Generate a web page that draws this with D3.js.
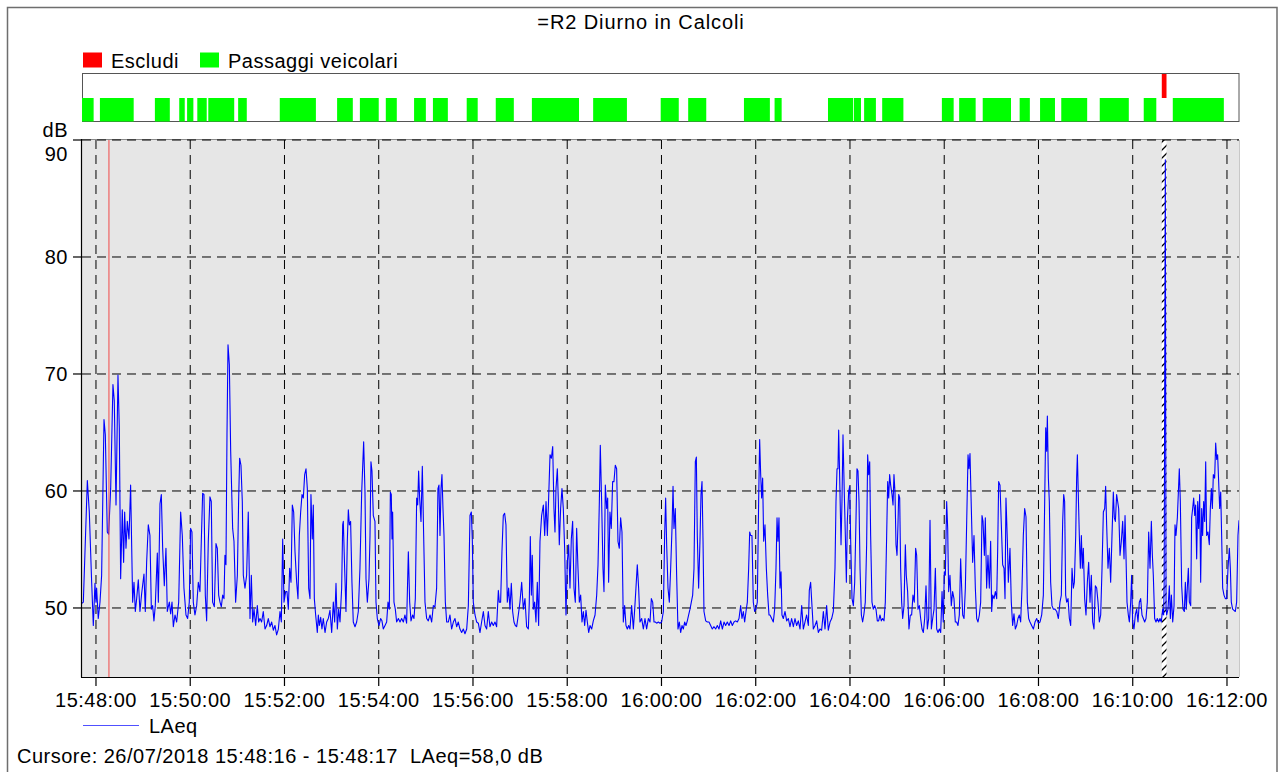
<!DOCTYPE html>
<html><head><meta charset="utf-8">
<script src="https://cdn.jsdelivr.net/npm/d3@7"></script>
<style>
body{margin:0;background:#fff;}
svg{display:block;font-family:"Liberation Sans",Arial,sans-serif;}
text{font-size:20px;letter-spacing:0.5px;fill:#000;white-space:pre;}
</style>
</head><body>
<svg id="chart" width="1284" height="772"></svg>
<script>
// ---------------- DATA ----------------
const chartTitle = "=R2 Diurno in Calcoli";
const legendTop = ["Escludi", "Passaggi veicolari"];
const seriesName = "LAeq";
const cursorText = "Cursore: 26/07/2018 15:48:16 - 15:48:17  LAeq=58,0 dB";
const baseDate = [2018, 6, 26, 15, 48, 0];       // 26/07/2018 15:48:00 (seconds below are offsets from it)
const xDomainSecs = [-17.8, 1455.3];
const yDomain = [44.1, 90];
const yTicks = [50, 60, 70, 80, 90];
const yUnit = "dB";
const xTickEveryMinutes = 2;
const cursorSecs = 16.5;
// vehicle passages [start, end] seconds
const passaggi = [[-17.8,-3],[5,48],[75,94],[106,113],[116,124],[129,141],[143,176],[181,192],[234,280],[307,327],[336,360],[369,383],[405,420],[429,448],[472,486],[509,532],[555,615],[633,676],[719,742],[754,777],[825,858],[864,873],[932,964],[965,974],[978,993],[1001,1028],[1077,1092],[1099,1120],[1129,1165],[1176,1189],[1202,1221],[1229,1262],[1278,1315],[1334,1350],[1371,1436]];
// excluded interval
const escludi = [[1357,1363]];
// LAeq series [seconds, dB]
const laeq = [
[-17.8,50.4],[-16.1,50.5],[-11.0,60.9],[-8.5,58.2],[-5.5,52.2],[-3.4,48.5],[-1.3,52.1],[0.0,50.5],[0.8,51.7],[2.9,49.1],[5.1,50.5],[7.2,52.8],[10.2,66.1],[11.9,64.8],[14.4,56.5],[16.1,56.3],[18.7,60.2],[21.6,69.1],[23.3,67.7],[25.5,58.8],[28.0,69.9],[29.7,65.4],[31.4,52.5],[33.5,58.4],[35.2,53.9],[36.5,58.2],[38.2,55.1],[39.9,57.4],[42.0,55.9],[44.1,60.5],[46.7,50.5],[48.4,52.2],[50.1,49.7],[51.8,50.8],[53.9,52.4],[56.0,49.7],[58.1,51.2],[61.1,52.9],[62.8,49.7],[64.5,53.9],[66.6,57.1],[68.7,56.2],[70.5,49.9],[72.1,50.2],[73.8,48.9],[75.5,50.2],[78.1,54.7],[79.4,50.5],[81.5,58.9],[83.2,59.7],[84.9,55.1],[87.0,51.9],[89.1,55.1],[90.8,49.7],[93.4,50.5],[95.1,49.5],[96.8,50.5],[98.5,48.4],[100.6,49.4],[102.7,48.8],[105.3,50.5],[107.8,58.2],[109.9,56.2],[112.0,51.7],[114.6,49.4],[116.7,49.1],[118.8,50.5],[120.5,56.8],[122.2,56.5],[123.9,50.5],[126.0,49.4],[128.2,50.2],[130.3,52.2],[132.4,51.4],[134.1,55.7],[135.8,59.8],[137.5,59.7],[139.2,51.1],[140.9,48.9],[143.0,55.7],[145.1,59.5],[146.8,59.1],[148.5,50.5],[150.7,50.1],[152.8,55.5],[154.5,55.1],[156.2,51.1],[157.9,50.5],[159.6,50.1],[161.3,51.1],[163.0,50.8],[164.2,54.5],[165.5,53.7],[166.8,64.8],[168.1,72.5],[169.8,70.8],[171.5,63.4],[174.0,56.8],[175.7,55.7],[177.8,50.5],[180.0,52.8],[181.6,59.1],[182.9,62.8],[184.6,62.2],[186.3,59.1],[187.6,52.8],[189.7,51.7],[191.8,52.8],[193.9,58.2],[196.1,49.1],[197.8,52.8],[199.5,48.8],[201.2,49.9],[203.3,48.5],[205.4,50.2],[207.1,48.8],[208.8,49.1],[210.9,48.8],[213.0,49.7],[215.2,48.2],[217.3,48.5],[219.4,49.1],[221.5,48.4],[223.7,48.8],[225.8,48.1],[227.9,48.5],[230.0,47.7],[232.2,48.2],[234.3,49.7],[236.0,48.8],[237.7,55.9],[239.4,50.5],[241.5,51.4],[243.2,51.4],[244.9,49.9],[246.6,53.4],[248.3,52.2],[250.0,58.8],[251.7,58.2],[253.4,54.8],[255.5,52.2],[257.2,50.8],[258.9,56.2],[260.6,58.2],[262.3,59.7],[264.0,59.4],[265.7,61.4],[267.4,61.9],[269.1,60.2],[270.8,51.7],[272.5,50.8],
[273.7,59.7],[275.4,55.9],[276.7,58.8],[278.0,50.8],[279.7,49.4],[281.8,47.9],[283.1,49.4],[284.4,48.5],[286.1,49.2],[287.7,48.2],[289.4,49.1],[291.6,47.9],[293.7,48.8],[295.8,49.1],[297.9,49.8],[300.1,47.9],[302.2,50.5],[303.9,48.8],[305.6,52.1],[307.3,48.2],[309.0,49.9],[310.7,48.8],[312.8,51.7],[314.1,57.1],[314.9,57.4],[316.6,53.4],[318.3,49.7],[320.0,55.7],[321.3,58.4],[322.6,57.1],[324.2,57.4],[325.9,52.2],[327.6,48.8],[329.8,48.4],[331.9,48.8],[334.0,49.7],[336.1,53.4],[338.3,59.9],[340.8,64.2],[342.5,59.9],[343.8,52.5],[345.5,50.5],[347.6,52.5],[348.9,56.2],[350.1,62.5],[351.4,61.7],[353.1,57.9],[355.2,57.4],[356.5,50.5],[358.2,49.1],[360.3,48.5],[362.4,49.1],[364.1,48.9],[365.8,48.2],[368.0,48.5],[370.1,48.8],[371.8,50.5],[373.5,49.9],[374.8,59.9],[376.0,59.7],[376.9,55.9],[377.7,58.2],[379.4,50.5],[381.1,49.9],[382.8,48.8],[385.0,49.1],[387.1,48.8],[389.2,49.1],[391.3,48.8],[393.4,49.4],[395.5,48.7],[397.7,54.8],[399.4,50.5],[401.1,48.9],[403.2,49.4],[404.9,49.1],[406.6,50.8],[408.3,59.4],[409.6,58.8],[410.8,61.7],[412.1,59.4],[413.8,57.4],[415.5,62.1],[417.2,56.2],[418.9,50.5],[421.0,49.1],[423.1,48.9],[425.3,49.4],[427.4,48.8],[429.5,50.2],[431.6,50.1],[433.7,51.7],[435.4,60.2],[436.7,60.5],[438.0,56.2],[439.3,60.2],[440.5,61.4],[441.8,58.5],[443.1,56.2],[444.8,50.5],[446.5,48.8],[448.6,48.8],[450.7,49.4],[452.8,48.2],[455.0,48.8],[457.1,49.1],[459.2,48.4],[461.3,48.8],[463.4,48.2],[465.6,47.9],[467.7,48.2],[469.8,47.8],[472.0,48.2],[474.1,50.2],[476.2,57.9],[477.9,58.2],[479.2,55.7],[480.4,50.5],[482.6,49.4],[484.7,48.8],[486.8,48.7],[488.9,47.9],[491.0,48.8],[493.2,49.7],[495.3,48.5],[497.4,48.2],[499.5,49.7],[501.6,48.4],[503.8,48.8],[505.9,48.5],[508.0,48.8],[510.1,48.4],[512.3,51.5],[513.5,50.5],[515.2,50.5],[516.9,54.8],[518.6,57.9],[520.3,58.1],[522.0,57.1],[523.7,50.5],[525.4,51.7],[527.1,49.9],[528.8,52.1],[530.5,49.7],[532.2,48.8],[533.9,48.5],[535.6,48.4],[537.7,49.4],[539.8,50.5],[542.0,52.2],[544.1,49.9],[546.2,50.8],[548.3,48.4],[550.5,48.2],[551.7,50.5],[553.0,56.1],[554.3,51.1],[555.5,54.5],[556.8,49.9],[558.5,50.5],[560.2,48.8],[561.9,52.2],[563.6,48.5],
[565.3,55.7],[567.4,57.9],[569.6,58.8],[571.3,56.2],[573.0,59.1],[574.7,56.2],[575.9,58.5],[578.1,63.1],[579.8,62.8],[581.5,63.8],[583.1,58.5],[584.4,56.5],[585.7,60.2],[587.4,61.9],[588.7,59.1],[589.9,55.4],[591.6,58.5],[593.3,60.2],[595.0,58.5],[596.7,55.1],[598.4,49.4],[600.1,53.9],[601.8,55.4],[603.5,51.7],[605.2,55.9],[606.9,57.4],[608.6,51.7],[610.3,50.5],[612.0,56.8],[613.7,53.4],[615.4,50.5],[617.1,51.1],[618.8,48.8],[620.5,49.7],[622.2,48.5],[623.9,49.8],[625.6,48.8],[627.3,47.9],[629.0,48.5],[631.1,48.2],[633.2,48.9],[635.4,49.4],[637.5,51.1],[639.2,53.7],[640.9,59.1],[642.1,63.9],[643.8,59.1],[645.5,53.4],[646.8,51.4],[648.5,60.5],[650.2,58.5],[651.5,59.4],[652.7,52.2],[654.4,58.2],[656.1,56.8],[657.8,60.8],[659.5,60.8],[661.2,62.2],[662.9,61.9],[664.6,55.7],[666.3,55.1],[668.0,57.7],[669.7,56.5],[671.4,48.8],[673.1,50.2],[674.8,48.5],[676.5,48.2],[678.2,48.5],[679.9,48.2],[682.0,50.2],[684.2,48.2],[685.9,49.9],[687.5,51.7],[689.2,53.7],[690.9,51.7],[692.6,48.8],[694.8,49.1],[696.9,48.2],[699.0,49.1],[701.1,48.2],[703.3,49.1],[705.4,48.8],[707.1,50.8],[708.8,50.5],[710.5,48.8],[712.2,48.8],[713.9,48.7],[716.0,48.8],[718.1,48.7],[720.2,48.8],[722.4,49.7],[724.0,56.2],[725.3,59.4],[726.6,55.4],[728.3,51.7],[730.0,50.5],[731.7,53.4],[733.4,56.8],[734.7,60.4],[735.9,56.8],[737.6,58.5],[739.3,52.8],[741.0,48.2],[742.7,48.8],[744.4,47.9],[746.1,48.5],[747.8,48.2],[749.5,48.8],[751.2,48.5],[752.9,48.9],[754.6,49.4],[756.3,49.9],[758.0,50.5],[759.7,51.1],[761.4,53.4],[763.1,62.5],[764.4,62.9],[765.6,56.2],[767.3,51.7],[769.0,55.7],[770.3,59.7],[771.6,60.8],[772.9,55.7],[774.1,49.7],[776.3,48.9],[778.4,48.8],[780.5,48.8],[782.6,48.5],[784.7,48.2],[786.9,48.4],[789.0,48.2],[791.1,48.5],[793.2,48.2],[795.4,48.9],[797.5,48.2],[799.6,48.8],[801.7,48.5],[803.8,48.8],[806.0,48.5],[808.1,48.9],[810.2,48.5],[812.3,48.8],[814.4,48.9],[816.6,48.8],[818.7,49.1],[820.8,50.2],[822.5,49.1],[824.2,49.7],[825.9,48.8],[827.6,49.7],[829.3,50.5],[831.0,53.4],[832.3,56.5],[833.5,56.2],[835.2,56.2],[836.9,50.5],[838.6,49.7],[840.3,49.9],[842.0,50.5],[843.7,59.1],[845.0,64.4],[846.3,61.4],[847.5,59.4],[848.8,61.1],[850.1,55.7],[851.8,57.1],[853.5,53.4],[855.2,51.1],[856.9,49.4],
[858.2,49.4],[860.3,49.1],[862.4,48.8],[864.1,49.9],[865.8,53.4],[867.1,57.7],[868.3,55.7],[869.6,57.7],[870.9,51.7],[872.2,53.1],[873.4,49.4],[875.1,49.1],[877.3,49.7],[879.4,48.9],[881.5,49.1],[883.6,48.4],[885.7,49.1],[887.9,48.4],[890.0,49.1],[892.1,48.5],[894.2,48.9],[896.4,48.2],[898.5,50.2],[900.6,48.2],[902.7,48.8],[904.8,49.4],[907.0,48.5],[908.2,51.5],[909.9,52.2],[911.6,50.2],[913.3,48.2],[915.5,48.5],[917.6,48.9],[919.7,47.9],[921.8,48.2],[923.9,48.1],[926.1,49.7],[928.2,48.2],[930.3,50.2],[932.4,48.1],[934.6,48.8],[936.7,49.1],[938.8,49.7],[940.9,53.4],[942.2,59.1],[943.5,61.9],[944.7,61.9],[945.6,65.2],[946.9,61.1],[948.6,55.4],[949.8,59.1],[951.1,64.8],[952.8,59.7],[954.1,56.2],[955.4,52.2],[956.6,57.4],[958.3,59.9],[959.6,60.4],[960.9,55.7],[962.6,50.8],[964.3,50.2],[966.0,52.2],[967.7,57.7],[968.9,61.9],[970.2,61.7],[971.5,59.1],[972.8,53.4],[974.5,49.4],[976.1,48.8],[977.8,49.5],[979.5,50.5],[981.2,55.4],[982.5,63.1],[983.8,61.4],[985.1,62.5],[986.3,56.2],[988.0,50.5],[989.7,49.9],[991.4,50.2],[993.1,49.9],[994.8,48.9],[996.5,48.9],[998.2,49.4],[999.9,48.9],[1001.6,49.1],[1003.3,48.9],[1005.0,50.5],[1006.7,56.2],[1008.0,60.8],[1009.3,59.4],[1010.5,61.4],[1011.8,60.5],[1013.5,59.7],[1014.8,58.8],[1016.0,61.4],[1017.3,59.9],[1018.6,55.4],[1019.9,54.5],[1021.1,57.1],[1022.0,59.7],[1023.3,59.4],[1024.5,53.4],[1025.8,50.5],[1027.1,49.1],[1028.8,50.2],[1030.5,55.4],[1031.7,52.8],[1033.4,51.4],[1035.1,48.2],[1036.8,49.4],[1038.5,49.4],[1040.2,51.1],[1041.9,50.5],[1043.6,55.1],[1044.9,54.5],[1046.6,49.9],[1048.3,50.2],[1050.0,49.1],[1051.7,48.2],[1053.4,47.9],[1055.1,49.1],[1056.8,51.9],[1058.5,48.2],[1060.2,49.1],[1061.9,57.5],[1063.6,48.2],[1065.3,49.1],[1067.0,49.9],[1068.7,53.4],[1070.4,48.2],[1072.1,47.9],[1073.8,48.2],[1075.5,47.9],[1077.2,51.4],[1078.8,48.8],[1080.1,53.1],[1081.4,52.8],[1083.1,59.1],[1084.4,56.8],[1085.6,51.4],[1087.3,52.8],[1089.0,50.2],[1090.7,51.4],[1092.4,50.8],[1094.1,48.8],[1095.8,48.8],[1097.5,48.5],[1099.2,49.4],[1100.9,54.2],[1102.2,51.7],[1103.5,49.4],[1105.2,49.1],[1106.9,51.7],[1108.6,57.4],[1110.3,63.1],[1111.5,61.9],[1112.8,63.2],[1114.5,58.5],[1116.2,53.9],[1117.9,56.2],[1119.6,51.7],[1121.3,49.1],[1123.0,48.8],[1124.7,49.4],[1126.4,50.5],[1128.1,57.9],[1129.4,57.4],[1131.1,54.5],[1132.3,57.7],[1134.0,51.7],[1135.7,54.5],[1137.4,51.7],[1139.1,55.7],[1140.4,49.7],[1141.7,51.1],[1143.4,50.8],[1145.1,51.4],[1146.8,50.8],[1148.0,54.8],[1149.3,60.8],
[1151.0,60.5],[1152.7,57.1],[1154.4,53.7],[1156.1,53.4],[1157.4,50.8],[1158.6,59.4],[1160.3,55.9],[1161.6,52.2],[1163.7,55.1],[1165.4,50.5],[1167.1,48.5],[1168.8,49.5],[1170.5,48.2],[1172.2,48.5],[1173.9,49.1],[1175.6,49.4],[1177.3,48.8],[1179.0,51.7],[1180.7,56.2],[1182.4,58.5],[1184.1,57.8],[1185.8,50.5],[1187.5,49.1],[1189.2,48.8],[1191.3,48.5],[1193.5,48.2],[1195.6,48.8],[1197.7,49.1],[1199.8,48.7],[1201.9,48.8],[1204.1,49.4],[1206.2,51.1],[1207.9,59.1],[1209.2,65.4],[1210.4,63.4],[1211.3,66.4],[1212.6,61.1],[1213.8,59.1],[1215.5,52.2],[1217.2,50.2],[1218.9,49.9],[1221.0,49.9],[1223.2,49.7],[1225.3,49.1],[1227.4,50.5],[1229.1,51.1],[1230.8,57.4],[1232.1,59.7],[1233.3,59.1],[1234.6,51.1],[1235.9,50.5],[1237.6,50.8],[1239.3,49.1],[1241.0,48.5],[1242.7,53.4],[1244.4,51.7],[1245.7,52.2],[1247.4,56.2],[1248.6,61.1],[1249.5,63.1],[1250.7,59.7],[1252.0,56.2],[1253.3,53.4],[1254.6,56.2],[1255.8,53.4],[1257.1,55.1],[1258.8,50.8],[1260.5,49.4],[1262.2,52.2],[1263.9,53.9],[1265.6,50.5],[1267.3,52.8],[1269.0,48.8],[1270.7,48.2],[1272.4,51.9],[1274.1,51.7],[1275.8,50.5],[1277.5,48.8],[1279.2,49.4],[1280.9,53.4],[1282.6,58.2],[1284.3,58.5],[1285.5,60.4],[1286.8,57.1],[1288.5,53.4],[1290.2,55.1],[1291.9,52.2],[1293.6,56.2],[1295.3,59.9],[1296.6,57.7],[1297.9,57.4],[1299.5,59.7],[1300.8,59.1],[1302.1,58.5],[1303.8,54.5],[1305.5,55.7],[1307.2,57.4],[1308.9,54.2],[1310.2,57.9],[1311.4,54.5],[1312.7,50.5],[1314.4,49.4],[1315.7,48.8],[1317.4,50.5],[1318.6,52.8],[1319.9,48.8],[1321.6,48.2],[1323.3,49.4],[1325.0,49.9],[1326.7,48.8],[1328.4,50.5],[1330.1,50.8],[1331.8,49.4],[1333.5,49.1],[1335.2,48.8],[1336.9,49.1],[1338.6,50.5],[1340.3,56.5],[1342.0,53.4],[1343.7,57.4],[1345.0,54.5],[1346.2,52.8],[1347.9,49.1],[1349.6,48.8],[1351.3,49.1],[1353.0,48.8],[1354.7,49.1],[1356.4,48.8],[1358.1,49.9],[1359.4,49.4],[1360.0,52.0],[1361.5,88.3],[1362.4,50.0],[1363.2,49.4],[1364.9,49.9],[1366.6,51.9],[1367.9,49.1],[1369.2,51.1],[1370.9,48.8],[1372.6,50.2],[1373.8,57.1],[1375.1,56.2],[1376.8,57.7],[1378.1,59.9],[1379.3,61.9],[1380.6,59.1],[1382.3,51.9],[1384.0,49.9],[1385.7,49.7],[1387.0,52.2],[1388.2,49.9],[1389.5,51.7],[1390.8,53.4],[1392.1,50.5],[1393.8,50.2],[1395.0,57.7],[1396.3,58.5],[1397.6,59.4],[1398.9,57.9],[1400.1,58.8],[1401.4,54.2],[1402.7,59.1],[1403.9,56.8],[1405.2,59.7],[1406.5,52.2],[1407.8,58.5],[1409.0,56.2],[1410.3,59.1],[1411.6,57.4],[1412.9,62.5],[1414.1,56.2],[1415.8,56.5],[1417.5,55.4],[1418.8,58.5],[1420.1,60.2],[1421.4,58.5],[1422.6,61.4],[1424.3,61.1],[1425.6,64.1],[1426.9,62.7],[1428.1,63.1],[1429.4,60.8],[1430.7,58.5],[1432.0,59.9],[1433.2,56.2],[1434.5,51.7],[1436.2,51.1],[1437.9,50.8],[1439.6,50.8],[1441.3,53.4],[1443.0,55.1],[1444.3,53.4],[1445.5,50.5],[1447.2,49.9],[1448.9,49.8],[1450.6,49.7],[1452.3,50.5],[1454.0,56.2],[1455.3,57.5]
];

// ---------------- DRAW ----------------
const svg = d3.select("#chart");
const P = {l: 82, t: 140, r: 1239, b: 677};
const B = {t: 73.5, mid: 98, b: 121.5};
const base = new Date(...baseDate);
const toDate = s => new Date(base.getTime() + s * 1000);

const x = d3.scaleTime().domain(xDomainSecs.map(toDate)).range([P.l, P.r]);
const y = d3.scaleLinear().domain(yDomain).range([P.b, P.t]);

const defs = svg.append("defs");
defs.append("clipPath").attr("id", "clip").append("rect")
  .attr("x", P.l).attr("y", P.t).attr("width", P.r - P.l).attr("height", P.b - P.t);
const pat = defs.append("pattern").attr("id", "hatch").attr("patternUnits", "userSpaceOnUse")
  .attr("width", 8).attr("height", 8);
pat.append("path").attr("d", "M-2,2 L2,-2 M0,8 L8,0 M6,10 L10,6")
  .attr("stroke", "#000").attr("stroke-width", 1.3);

// outer frame
svg.append("rect").attr("x", 7.5).attr("y", 7.5).attr("width", 1269.5).attr("height", 820)
  .attr("fill", "none").attr("stroke", "#6e6e6e").attr("stroke-width", 1.5);

// title
svg.append("text").attr("x", 641).attr("y", 29).attr("text-anchor", "middle")
  .style("letter-spacing", "0.9px").text(chartTitle);

// top legend
const legColors = ["#ff0000", "#00ff00"];
const legX = [83, 200];
legendTop.forEach((name, i) => {
  svg.append("rect").attr("x", legX[i]).attr("y", 52.5).attr("width", 19).attr("height", 15).attr("fill", legColors[i]);
  svg.append("text").attr("x", legX[i] + 28).attr("y", 68).text(name);
});

// event band
svg.append("rect").attr("x", P.l + 0.5).attr("y", B.t).attr("width", P.r - P.l - 0.5).attr("height", B.b - B.t)
  .attr("fill", "#fff").attr("stroke", "#555").attr("stroke-width", 1);
svg.append("g").selectAll("rect").data(passaggi).join("rect")
  .attr("x", d => x(toDate(d[0]))).attr("width", d => x(toDate(d[1])) - x(toDate(d[0])))
  .attr("y", B.mid).attr("height", B.b - B.mid).attr("fill", "#00ff00");
svg.append("g").selectAll("rect").data(escludi).join("rect")
  .attr("x", d => x(toDate(d[0]))).attr("width", d => x(toDate(d[1])) - x(toDate(d[0])))
  .attr("y", B.t + 0.5).attr("height", B.mid - B.t - 0.5).attr("fill", "#ff0000");

// plot background
svg.append("rect").attr("x", P.l).attr("y", P.t).attr("width", P.r - P.l).attr("height", P.b - P.t)
  .attr("fill", "#e6e6e6");
// excluded hatched area
const ex = svg.append("g");
ex.selectAll("rect.w").data(escludi).join("rect").attr("class", "w")
  .attr("x", d => x(toDate(d[0]))).attr("width", d => x(toDate(d[1])) - x(toDate(d[0])))
  .attr("y", P.t).attr("height", P.b - P.t).attr("fill", "#fff");
ex.selectAll("rect.h").data(escludi).join("rect").attr("class", "h")
  .attr("x", d => x(toDate(d[0]))).attr("width", d => x(toDate(d[1])) - x(toDate(d[0])))
  .attr("y", P.t).attr("height", P.b - P.t).attr("fill", "url(#hatch)");

// borders top/right
svg.append("line").attr("x1", P.l).attr("x2", P.r).attr("y1", P.t - 0.5).attr("y2", P.t - 0.5)
  .attr("stroke", "#8a8a8a").attr("stroke-width", 1);
svg.append("line").attr("x1", P.r + 0.5).attr("x2", P.r + 0.5).attr("y1", P.t).attr("y2", P.b)
  .attr("stroke", "#c8c8c8").attr("stroke-width", 1);

// grid
const xTicks = x.ticks(d3.timeMinute.every(xTickEveryMinutes));
const grid = svg.append("g").attr("stroke", "#000").attr("stroke-width", 1).attr("stroke-dasharray", "9,6");
grid.selectAll("line.v").data(xTicks).join("line").attr("class", "v")
  .attr("x1", d => x(d)).attr("x2", d => x(d)).attr("y1", P.t).attr("y2", P.b);
grid.selectAll("line.h").data(yTicks).join("line").attr("class", "h")
  .attr("x1", P.l).attr("x2", P.r).attr("y1", d => y(d)).attr("y2", d => y(d));

// LAeq line
const line = d3.line().x(d => x(toDate(d[0]))).y(d => y(d[1]));
svg.append("path").datum(laeq).attr("clip-path", "url(#clip)")
  .attr("fill", "none").attr("stroke", "#0000ff").attr("stroke-width", 1.1)
  .attr("stroke-linejoin", "round").attr("d", line);

// cursor
svg.append("line").attr("x1", x(toDate(cursorSecs))).attr("x2", x(toDate(cursorSecs)))
  .attr("y1", P.t).attr("y2", P.b).attr("stroke", "#f04848").attr("stroke-width", 1);

// axes
svg.append("line").attr("x1", P.l - 0.5).attr("x2", P.l - 0.5).attr("y1", P.t - 1).attr("y2", P.b + 0.5)
  .attr("stroke", "#000").attr("stroke-width", 1.2);
svg.append("line").attr("x1", P.l - 1).attr("x2", P.r).attr("y1", P.b + 0.5).attr("y2", P.b + 0.5)
  .attr("stroke", "#000").attr("stroke-width", 1.2);
svg.append("g").selectAll("line").data(yTicks).join("line")
  .attr("x1", P.l - 9).attr("x2", P.l).attr("y1", d => y(d)).attr("y2", d => y(d))
  .attr("stroke", "#000").attr("stroke-width", 1.2);
svg.append("g").selectAll("line").data(xTicks).join("line")
  .attr("x1", d => x(d)).attr("x2", d => x(d)).attr("y1", P.b).attr("y2", P.b + 9)
  .attr("stroke", "#000").attr("stroke-width", 1.2);

// tick labels
const fmt = d3.timeFormat("%H:%M:%S");
svg.append("g").selectAll("text").data(xTicks).join("text")
  .attr("x", d => x(d)).attr("y", 707).attr("text-anchor", "middle").text(d => fmt(d));
svg.append("g").selectAll("text").data(yTicks).join("text")
  .attr("x", 68).attr("y", d => Math.max(y(d) + 7, P.t + 21)).attr("text-anchor", "end").text(d => d);
svg.append("text").attr("x", 68).attr("y", 137).attr("text-anchor", "end").text(yUnit);

// bottom legend
svg.append("line").attr("x1", 83).attr("x2", 139).attr("y1", 725.5).attr("y2", 725.5)
  .attr("stroke", "#5050ff").attr("stroke-width", 1);
svg.append("text").attr("x", 149).attr("y", 733).text(seriesName);
svg.append("text").attr("x", 17).attr("y", 763).text(cursorText);
</script>
</body></html>
